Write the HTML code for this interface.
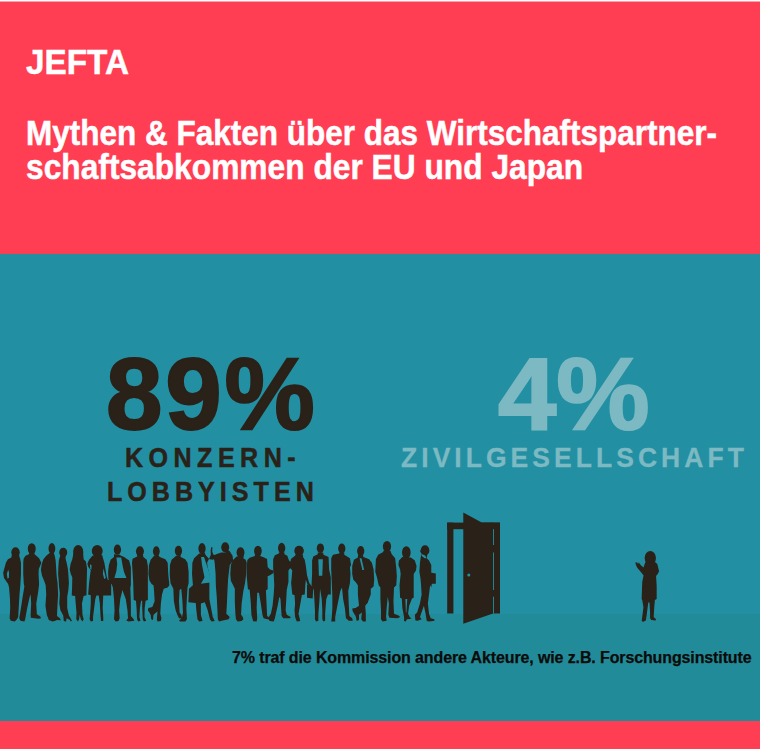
<!DOCTYPE html>
<html><head><meta charset="utf-8">
<style>
html,body{margin:0;padding:0;width:760px;height:749px;overflow:hidden;background:#fff;}
body{position:relative;font-family:"Liberation Sans",sans-serif;}
.pink{position:absolute;left:0;width:760px;background:#FF3D53;}
.t{position:absolute;white-space:nowrap;line-height:1;}
#title2{left:25.5px;top:149.9px;font-size:35px;font-weight:bold;color:#fff;line-height:34.4px;transform:scaleX(0.9065);transform-origin:0 0;-webkit-text-stroke:0.5px #fff;}
#jefta{left:26px;top:45px;font-size:35.8px;transform:scaleX(0.93);transform-origin:0 0;-webkit-text-stroke:0.5px #fff;font-weight:bold;color:#fff;}
#title{left:25.5px;top:115.5px;font-size:35px;font-weight:bold;color:#fff;line-height:34.4px;transform:scaleX(0.9);transform-origin:0 0;-webkit-text-stroke:0.5px #fff;}
.wall{position:absolute;left:0;top:254px;width:760px;height:360px;background:#2290A2;}
.floor{position:absolute;left:0;top:614px;width:760px;height:107px;background:#228B99;}
#p89{left:106px;top:343.5px;font-size:101.5px;font-weight:bold;color:#2A2118;-webkit-text-stroke:2px #2A2118;letter-spacing:2.8px;}
#konz{left:124.5px;top:442.5px;font-size:28.5px;font-weight:bold;color:#2A2118;letter-spacing:6.2px;transform:scaleX(0.88);transform-origin:0 0;-webkit-text-stroke:0.5px #2A2118;}
#lobby{left:107px;top:476.5px;font-size:28.5px;font-weight:bold;color:#2A2118;letter-spacing:5.7px;transform:scaleX(0.88);transform-origin:0 0;-webkit-text-stroke:0.5px #2A2118;}
#p4{left:497.5px;top:344px;font-size:101.5px;transform:scaleX(1.034);transform-origin:0 0;font-weight:bold;color:#7DB9C2;-webkit-text-stroke:2px #7DB9C2;}
#zivil{left:401px;top:443px;font-size:28.5px;font-weight:bold;color:#7DB9C2;letter-spacing:4.34px;transform:scaleX(0.93);transform-origin:0 0;-webkit-text-stroke:0.3px #7DB9C2;}
#cap{left:232px;top:649.5px;font-size:16px;font-weight:bold;color:#0B0B0B;letter-spacing:-0.12px;-webkit-text-stroke:0.25px #0B0B0B;}
svg{position:absolute;left:0;top:0;}
</style></head><body>
<div class="pink" style="top:2px;height:252px;"></div><div style="position:absolute;left:0;top:1px;width:760px;height:1px;background:#FF9EA9;"></div>
<div class="wall"></div>
<div class="floor"></div>
<div class="pink" style="top:721px;height:28px;"></div>
<svg width="760" height="749" viewBox="0 0 760 749"><!--DOOR--><g fill="#2A2118"><rect x="447.2" y="522.6" width="6.2" height="90.9"/><rect x="447.2" y="522.6" width="52.8" height="6.6"/><rect x="492.5" y="522.6" width="7.5" height="90.9"/><path d="M463.3,512.5 L481.7,522.6 L493,522.6 L493,613.6 L463.3,623.8Z"/></g><g fill="#2290A2"><circle cx="468.8" cy="575" r="1.5"/><rect x="493.1" y="529.2" width="0.9" height="15.8"/><rect x="493.1" y="552.5" width="0.9" height="37.5"/><rect x="493.1" y="596.7" width="0.9" height="16.8"/></g>
<!--/DOOR--><!--PEOPLE--><g fill="#2A2118"><ellipse cx="15.53" cy="552.24" rx="4.19" ry="4.99"/><path d="M11.34,557.57 L7.93,559.27 L5.89,562.67 L4.53,567.77 L3.17,572.87 L3.97,577.97 L6.23,581.37 L8.16,583.98 L9.07,587.61 L9.98,598.94 L10.20,608.01 L9.64,618.21 L10.77,620.71 L14.74,621.39 L17.00,619.35 L18.14,617.08 L18.70,608.01 L19.50,594.41 L20.40,584.21 L20.97,574.01 L20.97,562.67 L20.18,559.04 L19.50,557.00 L18.70,552.47 L12.24,552.47Z"/><ellipse cx="31.74" cy="548.84" rx="3.97" ry="5.67"/><path d="M28.91,554.17 L25.50,555.87 L23.58,558.70 L23.24,562.67 L23.24,574.01 L23.80,583.64 L24.37,586.47 L22.67,596.68 L20.97,608.01 L19.27,618.21 L20.40,620.71 L24.37,621.39 L25.16,619.35 L27.20,608.01 L29.70,596.68 L30.61,594.41 L31.17,603.48 L30.61,614.81 L30.83,617.65 L38.54,618.78 L41.03,618.21 L40.24,616.51 L36.84,614.25 L36.27,603.48 L37.97,593.28 L39.11,584.21 L38.54,574.01 L38.77,568.91 L40.24,565.50 L41.37,562.67 L39.11,558.14 L36.27,555.87 L34.57,554.17 L34.01,551.34 L29.70,551.34Z"/><ellipse cx="51.90" cy="548.50" rx="3.40" ry="5.44"/><path d="M49.64,553.04 L46.23,555.87 L43.40,559.27 L41.70,564.37 L40.91,570.04 L42.04,575.71 L44.31,581.37 L45.67,585.34 L46.23,594.41 L45.44,605.74 L46.80,614.81 L48.84,619.91 L52.47,621.39 L55.30,620.71 L57.00,619.91 L60.97,620.25 L59.84,618.21 L57.00,615.95 L57.57,603.48 L58.14,594.41 L57.57,583.07 L56.78,577.41 L56.10,567.20 L55.64,560.40 L54.74,555.87 L53.60,552.47Z"/><ellipse cx="63.24" cy="552.47" rx="3.97" ry="4.76"/><path d="M60.18,555.87 L58.82,560.40 L58.36,567.20 L58.14,574.01 L58.70,580.81 L59.04,586.47 L59.84,593.28 L59.27,603.48 L60.40,610.28 L63.24,615.38 L63.80,621.05 L66.07,621.39 L66.64,618.21 L70.04,619.91 L70.61,621.39 L71.97,620.71 L68.91,615.38 L67.20,608.01 L67.20,596.68 L68.34,589.88 L68.91,583.07 L68.34,574.01 L67.77,568.34 L66.64,562.67 L65.50,558.14 L65.84,554.74Z"/><ellipse cx="78.20" cy="551.90" rx="5.10" ry="6.80"/><path d="M73.44,553.60 L72.31,559.27 L70.61,563.80 L69.70,569.47 L70.83,574.01 L72.31,577.41 L72.08,587.61 L71.74,595.54 L75.14,596.11 L75.71,603.48 L76.50,612.55 L76.27,619.35 L77.97,621.39 L79.11,619.35 L79.67,614.81 L80.81,619.35 L82.51,621.39 L83.64,619.35 L82.51,614.81 L81.94,603.48 L83.64,596.11 L86.47,595.32 L86.70,583.07 L87.04,568.34 L85.91,561.54 L83.64,559.27 L83.07,552.47Z"/><ellipse cx="97.23" cy="551.00" rx="5.44" ry="5.89"/><path d="M92.47,555.87 L89.07,559.84 L87.37,563.80 L88.50,567.20 L90.77,570.04 L90.20,574.01 L89.07,583.07 L88.16,594.41 L90.77,595.32 L90.77,603.48 L90.20,612.55 L89.64,619.35 L90.77,621.39 L93.04,621.05 L93.04,617.08 L94.17,608.01 L95.30,598.94 L96.44,595.54 L98.70,595.54 L99.84,603.48 L100.40,613.68 L100.97,621.05 L103.24,621.05 L103.24,617.08 L102.67,608.01 L103.24,595.54 L111.17,595.54 L111.17,580.81 L107.77,579.67 L106.64,576.27 L105.50,569.47 L104.37,562.67 L102.67,557.00 L102.10,554.74Z"/><ellipse cx="117.41" cy="549.64" rx="3.63" ry="5.10"/><path d="M114.01,554.17 L114.01,557.00 L110.61,559.84 L108.91,564.94 L108.11,571.74 L108.34,578.54 L110.04,583.07 L111.74,584.21 L112.87,587.61 L114.01,598.94 L114.57,610.28 L114.01,619.35 L115.71,621.39 L118.54,621.05 L119.67,618.21 L119.11,610.28 L120.24,598.94 L121.94,592.14 L122.37,589.88 L125.77,598.94 L127.47,610.28 L128.04,618.21 L126.34,620.48 L128.60,621.39 L134.27,620.71 L133.70,619.35 L130.87,615.95 L130.87,603.48 L130.30,587.61 L130.87,585.34 L130.87,580.81 L130.87,567.20 L129.17,560.40 L124.07,557.00 L120.10,555.30 L120.24,554.74Z"/><ellipse cx="139.94" cy="551.34" rx="3.97" ry="5.10"/><path d="M137.10,556.44 L132.57,558.70 L132.00,562.67 L132.57,571.74 L133.14,580.81 L133.70,600.08 L135.97,600.64 L136.54,608.01 L137.10,619.35 L138.24,621.39 L140.50,620.71 L139.37,617.08 L139.94,608.01 L141.07,600.64 L142.20,600.64 L142.20,608.01 L142.77,619.35 L143.91,621.39 L146.17,620.71 L144.47,617.08 L144.70,608.01 L145.61,600.64 L147.87,600.08 L147.87,583.07 L147.87,566.07 L146.74,559.84 L143.34,557.00 L142.77,553.60 L137.44,553.60Z"/><ellipse cx="156.34" cy="551.34" rx="3.40" ry="5.10"/><path d="M154.07,555.87 L150.67,559.84 L148.97,564.94 L148.40,574.01 L149.53,580.81 L151.80,584.21 L153.50,585.34 L154.07,591.01 L154.64,601.21 L152.37,606.88 L148.40,608.01 L147.83,610.28 L150.67,614.81 L151.23,619.35 L152.93,619.91 L153.50,614.81 L157.47,611.41 L156.90,619.35 L157.47,621.39 L160.87,621.05 L161.44,618.21 L160.30,613.68 L160.87,603.48 L162.00,594.41 L163.70,588.74 L167.67,587.61 L169.37,585.34 L168.24,574.01 L167.67,562.67 L165.40,559.27 L159.74,557.00 L158.60,555.30Z"/><ellipse cx="178.44" cy="550.77" rx="3.63" ry="5.10"/><path d="M176.17,555.87 L171.64,559.84 L169.94,564.94 L169.71,574.01 L170.50,583.07 L172.20,586.47 L173.34,588.74 L173.91,601.21 L175.61,610.28 L177.31,614.81 L179.01,618.21 L182.41,618.78 L181.27,614.81 L179.57,612.55 L179.01,601.21 L179.57,589.88 L181.27,588.74 L182.41,601.21 L182.97,612.55 L181.84,618.21 L179.01,620.48 L180.14,621.61 L185.24,621.39 L186.94,619.35 L186.37,608.01 L186.94,596.68 L187.51,587.61 L188.64,583.07 L188.64,571.74 L187.51,562.67 L185.24,559.27 L180.71,557.00 L180.37,554.74Z"/><ellipse cx="202.00" cy="548.50" rx="3.63" ry="5.44"/><path d="M199.17,553.60 L194.07,558.14 L192.37,562.67 L192.03,574.01 L192.93,585.34 L188.97,588.74 L188.40,602.34 L195.77,602.91 L196.34,610.28 L197.47,619.35 L199.17,621.39 L202.57,621.05 L200.87,614.81 L200.87,603.48 L204.84,602.34 L207.67,610.28 L209.94,619.35 L211.64,621.39 L214.70,621.05 L212.77,617.08 L211.07,608.01 L209.37,598.94 L209.37,584.21 L209.37,574.01 L207.67,567.20 L207.10,562.67 L209.37,558.14 L210.84,554.74 L210.62,550.77 L211.30,547.03 L212.43,547.37 L212.20,551.34 L213.11,554.17 L215.61,555.87 L213.34,559.84 L209.37,559.27 L205.40,554.74 L204.84,552.47Z"/><ellipse cx="225.20" cy="547.37" rx="3.97" ry="5.10"/><path d="M213.34,555.87 L214.70,562.67 L215.61,574.01 L215.83,585.34 L216.74,596.68 L217.31,608.01 L217.87,619.35 L219.01,621.39 L221.80,620.71 L228.60,619.35 L229.74,617.08 L226.34,613.68 L226.90,603.48 L227.47,591.01 L228.04,579.67 L229.17,569.47 L229.74,564.94 L233.14,560.40 L232.57,555.87 L229.74,551.34 L227.47,549.64 L225.77,552.47 L221.23,552.47 L216.13,554.17Z"/><ellipse cx="240.50" cy="552.47" rx="3.97" ry="5.10"/><path d="M236.54,556.44 L232.57,560.40 L230.87,564.94 L230.30,574.01 L230.87,580.81 L233.14,585.34 L234.84,588.74 L234.84,602.34 L235.40,613.68 L235.97,619.35 L237.67,621.39 L241.64,621.05 L243.34,619.35 L242.77,617.08 L241.07,614.81 L241.64,603.48 L243.34,591.01 L245.04,583.07 L246.17,574.01 L246.74,562.67 L245.61,559.84 L243.34,558.14 L243.91,555.30Z"/><ellipse cx="257.91" cy="551.02" rx="3.84" ry="5.23"/><path d="M254.88,554.28 L254.88,556.02 L249.65,557.77 L247.33,560.09 L246.74,568.23 L246.74,576.37 L247.91,589.16 L249.65,589.74 L250.81,603.12 L251.40,614.74 L253.14,621.14 L256.63,621.49 L257.21,618.23 L256.63,607.77 L257.21,592.65 L258.95,592.65 L260.70,603.12 L262.44,614.74 L263.60,618.23 L268.26,619.40 L270.00,618.23 L267.09,615.91 L266.51,603.12 L265.93,590.33 L267.67,589.16 L267.67,576.37 L270.00,575.21 L273.49,572.88 L273.49,570.56 L270.00,569.40 L267.67,567.07 L267.09,558.93 L263.60,557.19 L260.12,556.02 L260.70,554.28Z"/><ellipse cx="281.64" cy="548.16" rx="3.63" ry="5.33"/><path d="M278.80,552.47 L278.80,553.60 L274.84,555.30 L273.14,559.27 L273.14,568.34 L273.70,574.01 L274.27,585.34 L273.70,594.41 L272.57,605.74 L270.87,613.68 L268.04,618.21 L269.74,621.05 L273.70,621.39 L274.84,618.21 L277.67,605.74 L279.37,596.68 L280.50,598.94 L281.07,608.01 L281.64,615.95 L283.34,618.21 L290.14,618.21 L290.71,617.08 L286.74,614.81 L285.61,610.28 L286.17,601.21 L286.74,589.88 L288.44,581.94 L288.44,570.61 L290.14,568.34 L292.41,568.34 L292.41,563.80 L289.01,560.40 L287.31,555.87 L284.47,554.17 L284.47,552.47Z"/><ellipse cx="299.07" cy="550.77" rx="4.76" ry="5.10"/><path d="M295.10,554.74 L295.10,555.87 L291.13,558.70 L290.00,562.67 L290.57,568.34 L292.27,570.61 L291.70,577.41 L291.13,583.07 L292.27,594.41 L294.53,594.98 L295.10,603.48 L294.53,610.28 L295.10,617.08 L296.80,621.39 L300.20,621.05 L299.64,618.21 L298.50,613.68 L300.20,604.61 L301.90,594.98 L304.74,594.41 L305.30,585.34 L305.87,579.67 L307.57,584.77 L307.00,585.34 L307.00,597.81 L312.67,598.38 L313.24,587.61 L310.97,585.34 L309.27,583.07 L307.00,575.14 L305.87,566.07 L304.74,559.84 L303.04,557.00 L303.04,554.74Z"/><ellipse cx="320.38" cy="548.16" rx="3.63" ry="4.76"/><path d="M317.77,552.47 L317.77,554.17 L313.24,556.44 L312.10,560.40 L312.10,574.01 L311.54,585.34 L313.80,589.88 L314.37,598.94 L314.94,610.28 L314.94,619.35 L316.07,621.39 L318.34,620.71 L318.34,614.81 L319.47,600.08 L320.04,588.74 L321.74,598.94 L322.31,610.28 L322.31,619.35 L323.44,621.39 L325.14,620.71 L325.14,613.68 L326.27,598.94 L327.97,594.41 L330.81,594.41 L330.81,577.41 L329.11,569.47 L328.54,557.00 L323.44,554.74 L323.10,552.47Z"/><ellipse cx="341.78" cy="548.50" rx="3.63" ry="5.10"/><path d="M339.17,552.47 L339.17,553.60 L332.93,554.74 L331.23,558.14 L331.23,569.47 L331.80,583.07 L332.37,596.68 L332.37,608.01 L331.80,617.08 L331.23,621.39 L335.20,621.39 L335.20,617.08 L336.90,608.01 L340.30,591.01 L342.00,587.61 L343.14,598.94 L344.84,608.01 L345.97,618.21 L348.80,620.71 L352.77,620.71 L352.20,618.21 L349.37,615.95 L348.80,605.74 L348.24,591.01 L349.94,583.07 L350.50,574.01 L349.94,567.20 L351.07,564.94 L349.94,558.14 L344.27,554.74 L344.27,552.47Z"/><ellipse cx="360.71" cy="551.00" rx="3.63" ry="5.10"/><path d="M358.10,554.74 L357.87,557.57 L353.91,559.84 L352.20,566.07 L352.20,574.01 L353.34,579.67 L355.61,581.94 L357.87,585.34 L357.87,594.41 L359.01,605.74 L355.61,608.01 L352.20,608.58 L352.77,611.41 L355.61,615.95 L356.74,621.05 L359.01,619.91 L359.01,614.81 L361.84,612.55 L361.27,619.35 L362.97,621.39 L365.81,621.39 L365.81,613.68 L365.24,605.74 L368.07,602.34 L367.37,603.48 L370.77,594.41 L370.77,588.74 L373.60,586.47 L374.17,579.67 L373.60,569.47 L371.90,562.67 L369.07,559.27 L363.40,557.00 L362.83,554.74Z"/><ellipse cx="386.98" cy="546.57" rx="4.08" ry="5.67"/><path d="M383.24,550.77 L383.24,551.90 L378.14,554.74 L375.87,559.27 L375.30,571.74 L377.00,577.41 L378.70,585.34 L380.40,587.61 L380.40,598.94 L380.97,610.28 L380.97,619.35 L382.67,621.39 L386.64,620.71 L386.07,617.08 L386.64,608.01 L387.77,596.68 L388.91,603.48 L388.34,614.81 L389.47,617.65 L397.41,618.21 L400.24,617.08 L398.54,615.38 L394.01,613.68 L393.44,601.21 L394.01,587.61 L396.27,585.34 L396.84,576.27 L396.27,568.34 L395.14,558.14 L391.74,554.17 L390.38,550.77Z"/><ellipse cx="406.34" cy="552.47" rx="4.31" ry="6.23"/><path d="M402.37,557.00 L398.97,560.40 L398.40,564.94 L400.10,569.47 L400.67,574.01 L399.53,585.34 L400.10,597.81 L401.80,598.38 L402.37,608.01 L404.07,617.08 L404.07,621.05 L405.77,621.39 L406.90,619.35 L411.44,618.78 L409.74,617.08 L408.04,613.68 L409.17,605.74 L412.00,598.38 L413.70,597.81 L413.70,585.34 L413.70,574.01 L415.97,570.61 L416.54,566.07 L414.84,560.40 L410.87,557.57Z"/><ellipse cx="425.04" cy="550.43" rx="4.31" ry="5.10"/><ellipse cx="422.20" cy="551.34" rx="1.81" ry="2.04"/><path d="M421.30,553.60 L419.94,562.67 L419.37,571.74 L420.50,578.54 L421.07,585.34 L421.64,594.41 L419.94,603.48 L417.10,612.55 L414.84,614.81 L415.40,620.48 L417.67,620.71 L421.64,619.35 L419.94,617.08 L423.91,605.74 L425.61,613.68 L426.74,621.05 L429.01,621.39 L434.67,620.71 L434.11,619.35 L430.71,618.21 L429.01,613.68 L427.87,603.48 L429.01,594.41 L430.14,585.34 L431.27,587.61 L431.84,583.64 L435.81,583.64 L435.81,573.44 L431.27,572.87 L431.27,564.94 L429.01,560.40 L426.74,558.14 L427.31,554.17Z"/><ellipse cx="650.30" cy="558.04" rx="5.65" ry="6.97"/><path d="M645.25,562.24 L643.45,567.65 L643.45,576.07 L642.24,582.08 L641.64,598.92 L642.24,600.12 L643.45,607.33 L642.24,616.95 L641.64,621.16 L643.45,621.76 L645.85,620.56 L647.05,612.14 L648.26,602.52 L649.46,602.52 L650.06,612.14 L650.06,618.15 L651.26,619.96 L655.47,620.56 L656.07,619.36 L653.67,616.95 L654.27,607.33 L654.87,600.12 L656.67,598.92 L656.67,585.69 L656.07,576.07 L657.87,573.67 L659.08,571.26 L657.27,564.05 L655.47,562.24Z"/><path d="M644.65,568.26 L641.40,565.85 L639.60,563.81 L639.00,562.24 L638.04,563.81 L637.07,562.60 L635.39,562.36 L635.87,564.65 L636.83,567.05 L638.04,568.86 L640.68,571.86 L643.09,574.87 L644.77,575.59Z"/></g><g fill="#2290A2"><path d="M116.40,557.50 L121.20,557.50 L122.80,566.50 L124.00,572.00 L126.50,578.00 L114.40,578.00 L116.40,571.00 L117.20,564.00Z"/><path d="M201.10,557.00 L204.04,557.00 L209.71,574.01 L210.16,582.51 L200.87,583.64 L204.50,577.41 L202.00,564.94Z"/><path d="M318.34,559.27 L322.87,559.27 L322.31,575.71 L318.91,575.71Z"/><path d="M359.57,558.14 L361.50,558.14 L364.11,570.04 L362.41,570.04Z"/><path d="M8.16,569.70 L9.07,572.87 L8.84,577.97 L7.48,578.54 L6.80,574.01Z"/><path d="M89.98,564.37 L91.56,565.16 L91.34,569.70 L90.20,568.56Z"/><path d="M103.46,568.34 L105.84,577.97 L104.26,579.11 L102.90,574.01Z"/><path d="M405.43,598.94 L407.24,598.94 L406.45,612.55 L405.88,612.55Z"/><path d="M421.30,553.83 L425.38,555.64 L426.51,558.36 L424.70,558.14 L421.75,556.10Z"/></g><!--/PEOPLE--></svg>
<div class="t" id="jefta">JEFTA</div>
<div class="t" id="title">Mythen &amp; Fakten über das Wirtschaftspartner-</div><div class="t" id="title2">schaftsabkommen der EU und Japan</div>
<div class="t" id="p89">89%</div>
<div class="t" id="konz">KONZERN-</div>
<div class="t" id="lobby">LOBBYISTEN</div>
<div class="t" id="p4">4%</div>
<div class="t" id="zivil">ZIVILGESELLSCHAFT</div>
<div class="t" id="cap">7% traf die Kommission andere Akteure, wie z.B. Forschungsinstitute</div>
</body></html>
